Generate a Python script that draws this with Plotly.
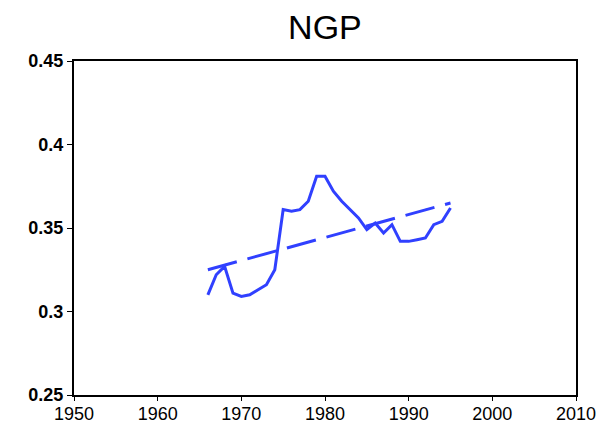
import plotly.graph_objects as go

years = list(range(1966, 1996))
values = [0.310, 0.322, 0.327, 0.311, 0.309, 0.310, 0.313, 0.316, 0.325, 0.361,
          0.360, 0.361, 0.366, 0.381, 0.381, 0.372, 0.366, 0.361, 0.356, 0.349,
          0.353, 0.347, 0.352, 0.342, 0.342, 0.343, 0.344, 0.352, 0.354, 0.362]
trend_years = [1966, 1995]
trend_values = [0.325, 0.365]

x_ticks = [1950, 1960, 1970, 1980, 1990, 2000, 2010]
y_ticks = [0.25, 0.3, 0.35, 0.4, 0.45]
y_labels = ["0.25", "0.3", "0.35", "0.4", "0.45"]

blue = "#3040ff"

fig = go.Figure()
fig.add_trace(go.Scatter(x=years, y=values, mode="lines",
                         line=dict(color=blue, width=3), showlegend=False))
fig.add_trace(go.Scatter(x=trend_years, y=trend_values, mode="lines",
                         line=dict(color=blue, width=3, dash="30px,11px"), showlegend=False))

# page body has an 8px margin, so the figure is sized/offset to compensate
fig.update_layout(
    width=598, height=417,
    margin=dict(l=66, r=30, t=53, b=30, autoexpand=False),
    paper_bgcolor="white", plot_bgcolor="white",
    title=dict(text="NGP", x=0.530, xanchor="center", y=0.955, yanchor="middle",
               yref="container",
               font=dict(family="Liberation Sans, Arial, sans-serif", size=34, color="black")),
    font=dict(family="Liberation Sans, Arial, sans-serif", size=16, color="black"),
)
fig.update_xaxes(range=[1950, 2010], tickvals=x_ticks, ticktext=[str(t) for t in x_ticks],
                 showgrid=False, zeroline=False, showline=True, linecolor="black", linewidth=2,
                 mirror=True, ticks="outside", ticklen=4, tickwidth=1, tickcolor="black",
                 automargin=False, ticklabelstandoff=-3,
                 tickfont=dict(size=18, family="Liberation Sans, Arial, sans-serif"))
fig.update_yaxes(range=[0.25, 0.45], tickvals=y_ticks, ticktext=["<b>%s</b>" % t for t in y_labels],
                 showgrid=False, zeroline=False, showline=True, linecolor="black", linewidth=2,
                 mirror=True, ticks="outside", ticklen=5, tickwidth=1, tickcolor="black",
                 automargin=False,
                 tickfont=dict(size=18))

fig.write_html("out.html")
